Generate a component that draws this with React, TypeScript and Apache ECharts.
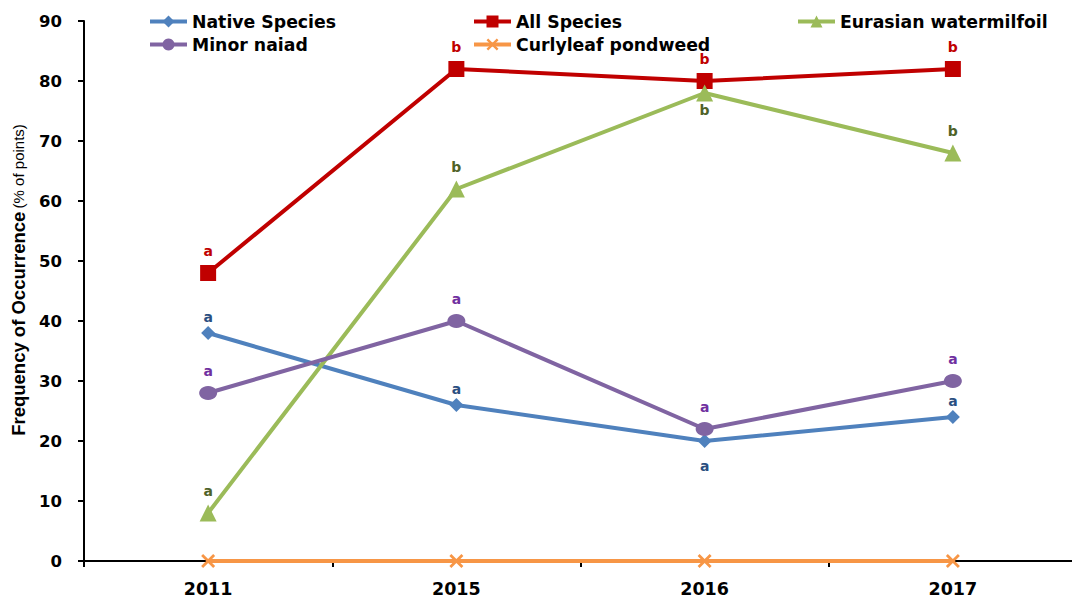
import React, { useEffect, useRef } from "react";
import * as echarts from "echarts";

// Survey years on the category axis
const years = ["2011", "2015", "2016", "2017"];

// Frequency of occurrence (% of sampled points)
const nativeSpecies = [38, 26, 20, 24];
const allSpecies = [48, 82, 80, 82];
const eurasianWatermilfoil = [8, 62, 78, 68];
const minorNaiad = [28, 40, 22, 30];
const curlyleafPondweed = [0, 0, 0, 0];

// Significance letters per point
const nativeLetters = ["a", "a", "a", "a"];
const allLetters = ["a", "b", "b", "b"];
const eurasianLetters = ["a", "b", "b", "b"];
const minorLetters = ["a", "a", "a", "a"];

// Y-axis ticks
const yMin = 0;
const yMax = 90;
const yStep = 10;

const CROSS =
  "path://M0,1.4 L1.4,0 L5,3.6 L8.6,0 L10,1.4 L6.4,5 L10,8.6 L8.6,10 L5,6.4 L1.4,10 L0,8.6 L3.6,5 Z";

const BOLD_FONT = "DejaVu Sans";

// Letters sit above each marker, except the indices listed in `below`
function letterData(
  values: number[],
  letters: string[],
  color: string,
  above: number,
  below: number[] = [],
  belowDist = 12
) {
  return values.map((v, i) => {
    const under = below.includes(i);
    return {
      value: v,
      label: {
        show: true,
        formatter: letters[i],
        position: under ? "bottom" : "top",
        distance: under ? belowDist : above,
        color,
        fontFamily: BOLD_FONT,
        fontWeight: "bold",
        fontSize: 14,
      },
    };
  });
}

export default function App() {
  const ref = useRef<HTMLDivElement>(null);

  useEffect(() => {
    if (!ref.current) return;
    const chart = echarts.init(ref.current, null, { renderer: "svg" });

    const legendBase = {
      orient: "vertical",
      top: 8,
      itemWidth: 37,
      itemHeight: 15,
      itemGap: 6,
      lineStyle: { width: 4 },
      textStyle: {
        fontFamily: BOLD_FONT,
        fontWeight: "bold",
        fontSize: 17.3,
        color: "#000",
      },
      selectedMode: false,
    };

    chart.setOption({
      animation: false,
      backgroundColor: "#fff",
      // plot area runs slightly past the right edge of the canvas
      grid: {
        left: 84,
        width: 993,
        top: 21,
        bottom: 40,
        outerBoundsMode: "none",
        containLabel: false,
      },
      legend: [
        { ...legendBase, left: 143, data: ["Native Species", "Minor naiad"] },
        { ...legendBase, left: 467, data: ["All Species", "Curlyleaf pondweed"] },
        { ...legendBase, left: 791, data: ["Eurasian watermilfoil"] },
      ],
      xAxis: {
        type: "category",
        data: years,
        boundaryGap: true,
        axisLine: { lineStyle: { color: "#000", width: 2 } },
        axisTick: { show: true, length: 6, lineStyle: { color: "#000", width: 2 } },
        axisLabel: {
          color: "#000",
          fontFamily: BOLD_FONT,
          fontWeight: "bold",
          fontSize: 17.5,
          margin: 19,
        },
        splitLine: { show: false },
      },
      yAxis: {
        type: "value",
        min: yMin,
        max: yMax,
        interval: yStep,
        name: "{b|Frequency of Occurrence} {r|(% of points)}",
        nameLocation: "middle",
        nameRotate: 90,
        nameGap: 46,
        nameTextStyle: {
          padding: [0, 0, 0, 22],
          rich: {
            b: {
              fontFamily: "Liberation Sans Narrow, Liberation Sans",
              fontWeight: "bold",
              fontSize: 18.5,
              color: "#000",
            },
            r: {
              fontFamily: "Liberation Sans Narrow, Liberation Sans",
              fontSize: 15,
              color: "#000",
            },
          },
        },
        axisLine: { show: true, lineStyle: { color: "#000", width: 2 } },
        axisTick: { show: true, length: 6, lineStyle: { color: "#000", width: 2 } },
        axisLabel: {
          color: "#000",
          fontFamily: BOLD_FONT,
          fontWeight: "bold",
          fontSize: 16.5,
          margin: 22,
        },
        splitLine: { show: false },
      },
      series: [
        {
          name: "Native Species",
          type: "line",
          data: letterData(nativeSpecies, nativeLetters, "#2B4F81", 2, [2], 11),
          symbol: "diamond",
          symbolSize: 14,
          lineStyle: { width: 4, color: "#4F81BD" },
          itemStyle: { color: "#4F81BD" },
        },
        {
          name: "All Species",
          type: "line",
          data: letterData(allSpecies, allLetters, "#C00000", 7),
          symbol: "rect",
          symbolSize: 16,
          lineStyle: { width: 4, color: "#C00000" },
          itemStyle: { color: "#C00000" },
        },
        {
          name: "Eurasian watermilfoil",
          type: "line",
          data: letterData(eurasianWatermilfoil, eurasianLetters, "#4F6228", 7, [2], 1),
          symbol: "triangle",
          symbolSize: 17,
          lineStyle: { width: 4, color: "#9BBB59" },
          itemStyle: { color: "#9BBB59" },
        },
        {
          name: "Minor naiad",
          type: "line",
          data: letterData(minorNaiad, minorLetters, "#7030A0", 8),
          symbol: "circle",
          symbolSize: [18, 14],
          lineStyle: { width: 4, color: "#8064A2" },
          itemStyle: { color: "#8064A2" },
        },
        {
          name: "Curlyleaf pondweed",
          type: "line",
          data: curlyleafPondweed,
          symbol: CROSS,
          symbolSize: 14,
          lineStyle: { width: 4, color: "#F79646" },
          itemStyle: { color: "#F79646" },
        },
      ],
    });

    return () => chart.dispose();
  }, []);

  return (
    <div
      ref={ref}
      style={{ width: 1072, height: 601, position: "absolute", left: 0, top: 0 }}
    />
  );
}
